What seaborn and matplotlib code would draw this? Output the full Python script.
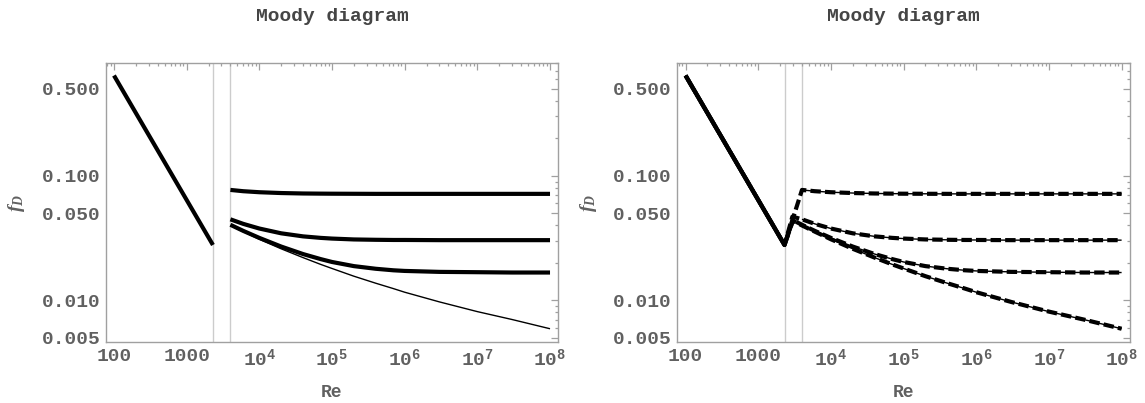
import matplotlib
matplotlib.use("Agg")
import matplotlib.pyplot as plt
import seaborn as sns
import pandas as pd
from matplotlib.ticker import FixedLocator, NullFormatter

# ---------------- data ----------------
re_laminar = [100, 2300]
f_laminar = [0.64, 0.0278]

re_turb = [4e3, 6e3, 1e4, 2e4, 4e4, 7e4, 1e5, 2e5, 4e5, 7e5, 1e6, 3e6, 1e7, 3e7, 1e8]
f_eps_05 = [0.0770, 0.0752, 0.0738, 0.0727, 0.0721, 0.0719, 0.0718, 0.0717, 0.0716,
            0.0716, 0.0716, 0.0716, 0.0716, 0.0716, 0.0716]
f_eps_005 = [0.0447, 0.0411, 0.0377, 0.0345, 0.0326, 0.0317, 0.0313, 0.0308, 0.0306,
             0.0305, 0.0305, 0.0304, 0.0304, 0.0304, 0.0304]
f_eps_0005 = [0.0404, 0.0361, 0.0317, 0.0270, 0.0235, 0.0214, 0.0203, 0.0188, 0.0179,
              0.0174, 0.0172, 0.0169, 0.0168, 0.0167, 0.0167]
f_smooth = [0.0399, 0.0356, 0.0309, 0.0259, 0.0220, 0.0194, 0.0180, 0.0156, 0.0137,
            0.0124, 0.0116, 0.0097, 0.0081, 0.0070, 0.0059]

# transitional points of the dashed (all-regime) curves, right panel
re_peak = [None, 2950, 3000, 3000]
f_peak = [None, 0.0470, 0.0440, 0.0436]

transition_bounds = [2300, 4000]

x_major = [1e2, 1e3, 1e4, 1e5, 1e6, 1e7, 1e8]
x_labels = ["100", "1000", "$10^{4}$", "$10^{5}$", "$10^{6}$", "$10^{7}$", "$10^{8}$"]
y_major = [0.005, 0.01, 0.05, 0.1, 0.5]
y_labels = ["0.005", "0.010", "0.050", "0.100", "0.500"]

title_text = "Moody diagram"
x_title = "Re"
y_title = "$\\mathit{f}_{D}$"

# ---------------- style ----------------
sns.set_style("white")
plt.rcParams["font.family"] = ["Liberation Mono", "DejaVu Sans Mono"]
plt.rcParams["font.weight"] = "bold"
plt.rcParams["mathtext.fontset"] = "custom"
plt.rcParams["mathtext.rm"] = "Liberation Mono:bold"
plt.rcParams["mathtext.bf"] = "Liberation Mono:bold"
plt.rcParams["mathtext.it"] = "Liberation Serif:italic:bold"

TXT = "#606060"
FRAME = "#a0a0a0"
GRID = "#cccccc"
THICK = 3.0
THIN = 1.0

fig = plt.figure(figsize=(11.45, 4.03), dpi=100)
ax_l = fig.add_axes([0.0923, 0.1506, 0.3953, 0.6938])
ax_r = fig.add_axes([0.5915, 0.1506, 0.3953, 0.6938])

curves = [f_eps_05, f_eps_005, f_eps_0005, f_smooth]


def line(ax, x, y, lw, dash=None):
    df = pd.DataFrame({"Re": x, "f": y})
    sns.lineplot(data=df, x="Re", y="f", ax=ax, color="black", lw=lw,
                 estimator=None, sort=False, legend=False)
    ln = ax.lines[-1]
    ln.set_solid_capstyle("butt")
    if dash is not None:
        ln.set_linestyle(dash)
        ln.set_dash_capstyle("butt")
    return ln


def frame(ax):
    ax.set_xscale("log")
    ax.set_yscale("log")
    ax.set_xlim(76.9, 1.30e8)
    ax.set_ylim(0.00459, 0.811)
    for xv in transition_bounds:
        ax.axvline(xv, color=GRID, lw=1.0, zorder=0)
    ax.xaxis.set_major_locator(FixedLocator(x_major))
    ax.set_xticklabels(x_labels)
    xmin = [m * 10 ** k for k in range(1, 9) for m in range(2, 10)]
    ax.xaxis.set_minor_locator(FixedLocator(xmin))
    ax.xaxis.set_minor_formatter(NullFormatter())
    ax.yaxis.set_major_locator(FixedLocator(y_major))
    ax.set_yticklabels(y_labels)
    ymin = [m * 10.0 ** k for k in range(-3, 0) for m in range(1, 10)
            if round(m * 10.0 ** k, 6) not in y_major]
    ax.yaxis.set_minor_locator(FixedLocator(ymin))
    ax.yaxis.set_minor_formatter(NullFormatter())
    ax.tick_params(which="both", direction="in", top=True, right=True,
                   color=FRAME, width=0.9, labelcolor=TXT, labelsize=14)
    ax.tick_params(which="major", length=5, pad=4)
    ax.tick_params(which="minor", length=2.5)
    for s in ax.spines.values():
        s.set_color(FRAME)
        s.set_linewidth(1.0)
    ax.set_title(title_text, fontsize=14, fontweight="bold", color="#454545", pad=30)
    ax.set_xlabel(x_title, fontsize=13, fontweight="bold", color=TXT, labelpad=10)
    ax.set_ylabel(y_title, fontsize=14, color=TXT, labelpad=10)


# ---------- left panel ----------
line(ax_l, re_laminar, f_laminar, THICK)
for f in curves[:3]:
    line(ax_l, re_turb, f, THICK)
line(ax_l, re_turb, f_smooth, THIN)
frame(ax_l)

# ---------- right panel ----------
line(ax_r, re_laminar, f_laminar, THIN)
for f in curves:
    line(ax_r, re_turb, f, THIN)
period = 3.5
for i, f in enumerate(curves):
    xs = list(re_laminar)
    ys = list(f_laminar)
    if re_peak[i] is not None:
        xs.append(re_peak[i])
        ys.append(f_peak[i])
    xs += re_turb
    ys += f
    line(ax_r, xs, ys, THICK, dash=(i * period / 4.0 * THICK, (2.5, 1.0)))
frame(ax_r)

fig.savefig("out.png", dpi=100)
